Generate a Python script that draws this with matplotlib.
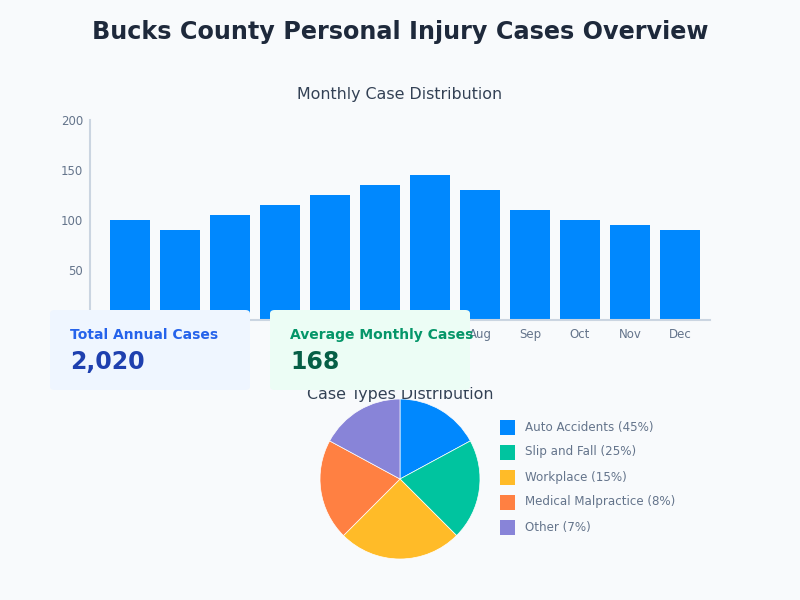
import matplotlib
matplotlib.use("Agg")
import matplotlib.pyplot as plt
from matplotlib.patches import FancyBboxPatch, Rectangle

# monthly cases
months = ["Jan", "Feb", "Mar", "Apr", "May", "Jun", "Jul", "Aug", "Sep", "Oct", "Nov", "Dec"]
cases = [100, 90, 105, 115, 125, 135, 145, 130, 110, 100, 95, 90]

# case types: legend labels and slice sizes as drawn
case_types = ["Auto Accidents (45%)", "Slip and Fall (25%)", "Workplace (15%)",
              "Medical Malpractice (8%)", "Other (7%)"]
slice_sizes = [17.1, 20.4, 25.0, 20.4, 17.1]
pie_colors = ["#0088fe", "#00c49f", "#ffbb28", "#ff8042", "#8884d8"]

total_cases = "2,020"
avg_cases = "168"

bg = "#f8fafc"
fig = plt.figure(figsize=(8, 6), dpi=100, facecolor=bg)
W, H = 800, 600

def fx(x): return x / W
def fy(y): return 1 - y / H

fig.text(0.5, fy(32), "Bucks County Personal Injury Cases Overview", ha="center", va="center",
         fontsize=17.2, fontweight="bold", color="#1e293b")

# bar chart
ax = fig.add_axes([fx(90), fy(320), fx(620), 200 / H])
ax.set_facecolor(bg)
ax.bar(range(len(months)), cases, width=0.8, color="#0088fe")
ax.set_xlim(-0.8, 11.6)
ax.set_ylim(0, 200)
ax.set_xticks(range(len(months)))
ax.set_xticklabels(months)
ax.set_yticks([50, 100, 150, 200])
ax.tick_params(length=0, labelsize=8.5, labelcolor="#64748b", pad=6)
ax.tick_params(axis="y", pad=5)
# Jan-Jul labels sit under the stat cards
for t in ax.get_xticklabels()[:7]:
    t.set_visible(False)
for s in ["top", "right"]:
    ax.spines[s].set_visible(False)
for s in ["left", "bottom"]:
    ax.spines[s].set_color("#cbd5e1")
    ax.spines[s].set_linewidth(1.5)
fig.text(0.5, fy(95), "Monthly Case Distribution", ha="center", va="center",
         fontsize=11.4, color="#334155")

# stat cards
cards = [
    (50, "Total Annual Cases", total_cases, "#eff6ff", "#2563eb", "#1e40af"),
    (270, "Average Monthly Cases", avg_cases, "#ecfdf5", "#059669", "#065f46"),
]
for x0, label, value, fc, c1, c2 in cards:
    box = FancyBboxPatch((fx(x0), fy(390)), fx(200), 80 / H,
                         boxstyle="round,pad=0,rounding_size=0.006",
                         transform=fig.transFigure, facecolor=fc, edgecolor="none", zorder=5)
    fig.add_artist(box)
    fig.text(fx(x0 + 20), fy(335), label, ha="left", va="center", fontsize=10,
             fontweight="bold", color=c1, zorder=6)
    fig.text(fx(x0 + 20), fy(362), value, ha="left", va="center", fontsize=17,
             fontweight="bold", color=c2, zorder=6)

# pie chart
r = 80
pax = fig.add_axes([fx(400 - r), fy(479 + r), fx(2 * r), 2 * r / H])
pax.pie(slice_sizes, colors=pie_colors, startangle=90, counterclock=False,
        wedgeprops=dict(linewidth=0.5, edgecolor="white"))
pax.set_aspect("equal")
pax.set_xlim(-1, 1)
pax.set_ylim(-1, 1)
fig.text(0.5, fy(395), "Case Types Distribution", ha="center", va="center",
         fontsize=11.4, color="#334155", zorder=1)

for i, (lab, c) in enumerate(zip(case_types, pie_colors)):
    yc = 427 + 25 * i
    fig.add_artist(Rectangle((fx(500), fy(yc + 7.5)), fx(15), 15 / H,
                             transform=fig.transFigure, facecolor=c, edgecolor="none"))
    fig.text(fx(525), fy(yc), lab, ha="left", va="center", fontsize=8.6, color="#64748b")

fig.savefig("out.png", dpi=100, facecolor=bg)
